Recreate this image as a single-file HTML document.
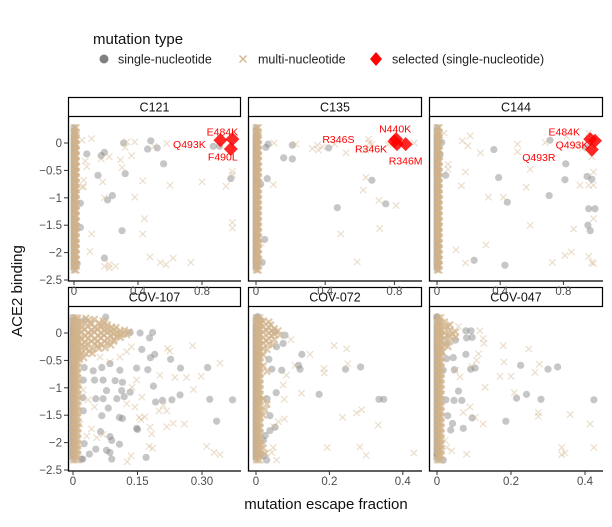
<!DOCTYPE html>
<html><head><meta charset="utf-8"><style>
body{margin:0;background:#fff;}
svg text{font-family:"Liberation Sans",sans-serif;}
</style></head><body>
<svg id="chart" width="612" height="522" viewBox="0 0 612 522" xmlns="http://www.w3.org/2000/svg">
<g>
<text x="93" y="44" font-size="15" fill="#111">mutation type</text>
<g><circle cx="104" cy="59" r="4.5" fill="#808080"/><text x="118" y="63.5" font-size="12.5" fill="#222">single-nucleotide</text></g>
<g><path d="M239.5,55.5l7,7M246.5,55.5l-7,7" stroke="#d2b48c" stroke-width="1.3"/><text x="258" y="63.5" font-size="12.5" fill="#222">multi-nucleotide</text></g>
<g><path d="M376,52l6,7l-6,7l-6,-7z" fill="#ff0000"/><text x="392" y="63.5" font-size="12.5" fill="#222">selected (single-nucleotide)</text></g>
</g>
<text transform="translate(22,291) rotate(-90)" text-anchor="middle" font-size="15" fill="#111">ACE2 binding</text>
<text x="326" y="509" text-anchor="middle" font-size="15" fill="#111">mutation escape fraction</text>
<g id="panels"></g>
<g id="toplabels"></g>
</svg>
<script>
const colY = [0.28,0.22,0.15,0.1,0.05,0,-0.05,-0.1,-0.15,-0.2,-0.25,-0.3,-0.35,-0.4,-0.45,-0.5,-0.55,-0.6,-0.65,-0.7,-0.75,-0.8,-0.85,-0.9,-0.95,-1.0,-1.05,-1.1,-1.15,-1.2,-1.25,-1.3,-1.35,-1.4,-1.45,-1.5,-1.55,-1.6,-1.65,-1.7,-1.75,-1.8,-1.85,-1.9,-1.95,-2.0,-2.05,-2.1,-2.15,-2.2,-2.25,-2.3];
const topColX = [0.0,0.008,0.016,0.004,0.012];
const botColX = [0,0.006,0.012,0.003,0.009];

const yTicks = [0,-0.5,-1,-1.5,-2,-2.5];
const yTickLabels = ["0","\u22120.5","\u22121","\u22121.5","\u22122","\u22122.5"];
const topXTicks = [0,0.4,0.8];
const topXTickLabels = ["0","0.4","0.8"];
const cov107XTicks = [0,0.15,0.3];
const cov107XTickLabels = ["0","0.15","0.30"];
const covXTicks = [0,0.2,0.4];
const covXTickLabels = ["0","0.2","0.4"];

const panelNames = ["C121","C135","C144","COV-107","COV-072","COV-047"];

const c121_sn = [[0.08,-0.2],[0.19,-0.17],[0.17,-0.23],[0.31,0],[0.48,0.04],[0.46,-0.11],[0.52,-0.09],[0.56,-0.38],[0.32,-0.56],[0.15,-0.59],[0.24,-0.96],[0.21,-1.04],[0.04,-1.1],[0.04,-1.54],[0.3,-1.6],[0.19,-2.1],[0.87,-0.06],[0.91,-0.06],[0.98,-0.65],[0.02,-2.2]];
const c121_mn = [[0.05,0.05],[0.11,0.08],[0.07,-0.33],[0.08,-0.43],[0.17,-0.29],[0.22,-0.25],[0.29,-0.31],[0.3,-0.45],[0.36,-0.23],[0.33,0.02],[0.38,0.02],[0.32,-0.08],[0.5,-0.06],[0.58,-0.01],[0.43,-0.69],[0.18,-0.71],[0.06,-0.68],[0.06,-0.8],[0.05,-0.8],[0.19,-1.0],[0.38,-0.99],[0.6,-0.77],[0.8,-0.71],[0.95,-0.79],[0.99,-0.52],[0.99,-0.58],[0.44,-1.38],[0.43,-1.66],[0.11,-1.66],[0.99,-1.45],[0.99,-1.55],[0.1,-1.98],[0.475,-2.08],[0.19,-2.25],[0.22,-2.22],[0.26,-2.25],[0.22,-2.28],[0.54,-2.18],[0.575,-2.22],[0.62,-2.1],[0.73,-2.18]];
const c121_sel = [[0.99,0.07],[0.915,0.05],[0.98,-0.11]];
const c121_selLabels = ["E484K","Q493K","F490L"];

const c135_sn = [[0.07,-0.02],[0.057,-0.08],[0.21,-0.04],[0.42,-0.09],[0.16,-0.27],[0.21,-0.29],[0.065,-0.65],[0.027,-0.75],[0.67,-0.68],[0.47,-1.18],[0.75,-1.11],[0.05,-1.76],[0.036,-2.18]];
const c135_mn = [[0.104,0],[0.23,-0.02],[0.325,-0.1],[0.36,-0.13],[0.385,-0.07],[0.355,-0.04],[0.455,-0.02],[0.52,-0.18],[0.65,0.07],[0.655,0],[0.67,-0.02],[0.635,-0.13],[0.765,-0.03],[0.845,-0.01],[0.915,0],[0.1,-0.76],[0.635,-0.63],[0.62,-0.86],[0.71,-1.05],[0.81,-1.14],[0.49,-1.66],[0.715,-1.56],[0.585,-2.17],[0.03,-1.83]];
const c135_sel = [[0.81,0.07],[0.8,0.03],[0.815,-0.02],[0.865,-0.02]];
const c135_selLabels = ["N440K","R346S","R346K","R346M"];

const c144_sn = [[0.03,0.01],[0.02,-0.21],[0.055,-0.59],[0.36,-0.12],[0.715,0.05],[0.39,-0.63],[0.445,-1.08],[0.71,-0.96],[0.815,-0.38],[0.81,-0.67],[0.95,-0.61],[0.98,-0.66],[0.96,-1.2],[1.0,-1.2],[0.955,-1.5],[0.97,-1.6],[0.94,-0.07],[0.235,-2.14],[0.43,-2.23]];
const c144_mn = [[0.045,0.18],[0.16,0.04],[0.21,0.13],[0.195,-0.05],[0.275,-0.18],[0.07,-0.39],[0.07,-0.48],[0.18,-0.53],[0.155,-0.78],[0.51,-0.02],[0.51,-0.16],[0.685,0.01],[0.59,-0.48],[0.565,-0.81],[0.325,-0.99],[0.42,-0.99],[0.82,0.12],[0.96,0.18],[0.98,-0.25],[0.99,-0.53],[0.905,-0.77],[0.96,-0.77],[0.99,-0.77],[0.99,-1.38],[0.865,-1.57],[0.59,-1.5],[0.31,-1.86],[0.12,-1.95],[0.18,-2.19],[0.73,-2.18],[0.81,-2.05],[0.85,-1.99],[0.96,-2.07],[0.98,-2.18],[0.99,-2.2],[0.88,-0.05],[0.92,-0.1]];
const c144_sel = [[0.97,0.07],[1.0,0.04],[0.98,-0.12]];
const c144_selLabels = ["E484K","Q493K","Q493R"];

const cov107_sn = [[0.076,0.29],[0.026,0.23],[0.133,0.01],[0.156,0],[0.185,0.01],[0.178,-0.09],[0.16,-0.3],[0.19,-0.39],[0.18,-0.45],[0.227,-0.48],[0.148,-0.64],[0.174,-0.67],[0.25,-0.64],[0.313,-0.63],[0.086,-0.56],[0.067,-0.63],[0.047,-0.69],[0.026,-0.63],[0.109,-0.68],[0.115,-0.9],[0.098,-0.87],[0.024,-0.86],[0.05,-0.86],[0.07,-0.86],[0.187,-0.97],[0.078,-1.05],[0.113,-1.05],[0.133,-1.08],[0.053,-1.2],[0.07,-1.2],[0.102,-1.2],[0.119,-1.16],[0.023,-1.18],[0.192,-1.26],[0.208,-1.23],[0.23,-1.22],[0.249,-1.13],[0.318,-1.21],[0.371,-1.22],[0.082,-1.37],[0.024,-1.42],[0.067,-1.51],[0.108,-1.54],[0.115,-1.56],[0.148,-1.74],[0.15,-1.76],[0.334,-1.61],[0.064,-1.8],[0.086,-1.89],[0.09,-1.96],[0.026,-2.02],[0.108,-2.03],[0.053,-2.12],[0.078,-2.14],[0.086,-2.18],[0.038,-2.21],[0.17,-2.27],[0.019,-2.3],[0.023,-2.3],[0.09,-2.3]];
const cov107_mn = [[0.278,-0.23],[0.22,-0.28],[0.225,-0.33],[0.342,-0.55],[0.298,-0.79],[0.28,-1.03],[0.264,-0.81],[0.237,-0.81],[0.202,-0.77],[0.218,-1.42],[0.2,-1.42],[0.21,-1.32],[0.233,-1.65],[0.218,-1.71],[0.259,-1.66],[0.158,-1.58],[0.167,-1.53],[0.154,-1.54],[0.179,-1.72],[0.183,-1.84],[0.311,-2.07],[0.328,-2.18],[0.342,-2.22],[0.177,-2.07],[0.185,-2.1],[0.126,-2.35],[0.135,-2.24],[0.032,-1.88],[0.043,-1.75],[0.07,-1.85],[0.055,-1.91],[0.016,-1.66],[0.016,-0.95],[0.024,-1.04],[0.02,-1.16],[0.035,-1.22],[0.05,-1.35],[0.125,-1.29],[0.144,-1.35],[0.16,-1.17],[0.137,-0.99],[0.148,-0.86],[0.063,-0.44],[0.086,-0.53],[0.109,-0.44],[0.125,-0.34],[0.136,-0.25]];
const cov107_blob = [[0.01,0.25],[0.03,0.27],[0.05,0.25],[0.07,0.22],[0.02,0.18],[0.04,0.2],[0.06,0.18],[0.08,0.15],[0.1,0.1],[0.12,0.05],[0.13,0.02],[0.005,0.1],[0.02,0.1],[0.035,0.12],[0.05,0.1],[0.065,0.1],[0.08,0.08],[0.095,0.06],[0.11,0.04],[0.005,0.0],[0.02,0.02],[0.035,0.0],[0.05,0.02],[0.065,0.0],[0.08,0.01],[0.095,-0.01],[0.11,-0.02],[0.125,-0.03],[0.005,-0.1],[0.02,-0.12],[0.035,-0.1],[0.05,-0.11],[0.065,-0.09],[0.08,-0.1],[0.095,-0.12],[0.11,-0.08],[0.005,-0.2],[0.02,-0.22],[0.035,-0.19],[0.05,-0.2],[0.065,-0.21],[0.08,-0.18],[0.095,-0.15],[0.005,-0.3],[0.015,-0.32],[0.03,-0.29],[0.045,-0.3],[0.06,-0.28],[0.075,-0.27],[0.005,-0.4],[0.015,-0.42],[0.03,-0.38],[0.045,-0.37],[0.005,-0.5],[0.015,-0.48],[0.025,-0.45],[0.012,0.05],[0.028,-0.05],[0.043,0.05],[0.058,-0.05],[0.073,0.05],[0.088,-0.05],[0.103,0.0],[0.012,-0.15],[0.028,-0.25],[0.043,-0.15],[0.058,-0.15],[0.073,-0.15],[0.088,-0.22],[0.012,0.2],[0.043,0.16],[0.073,0.18],[0.027,0.07],[0.057,0.07],[0.087,0.03],[0.117,-0.01],[0.027,-0.17],[0.057,-0.24],[0.042,-0.03],[0.072,-0.04],[0.102,-0.06],[0.02,-0.36],[0.038,-0.33],[0.012,-0.26],[0.065,0.14],[0.09,0.11],[0.035,0.23],[0.018,-0.07]];

const cov072_sn = [[0.005,0.3],[0.014,0.23],[0.052,0.02],[0.079,-0.04],[0.074,-0.19],[0.056,-0.25],[0.035,-0.48],[0.043,-0.66],[0.07,-0.68],[0.125,-0.39],[0.116,-0.59],[0.12,-0.66],[0.244,-0.66],[0.285,-0.62],[0.172,-1.12],[0.335,-1.21],[0.348,-1.21],[0.055,-1.09],[0.03,-1.2],[0.011,-1.2],[0.038,-1.51],[0.052,-1.72],[0.038,-1.78],[0.025,-1.87],[0.02,-1.96],[0.006,-2.21],[0.029,-2.32],[0.02,-2.24]];
const cov072_mn = [[0.095,-0.12],[0.147,-0.39],[0.213,-0.23],[0.247,-0.29],[0.25,-0.56],[0.185,-0.65],[0.186,-0.73],[0.106,-0.59],[0.083,-0.77],[0.074,-0.95],[0.124,-1.1],[0.077,-1.21],[0.236,-1.54],[0.274,-1.46],[0.288,-1.4],[0.333,-1.68],[0.077,-1.57],[0.061,-1.62],[0.048,-1.71],[0.194,-2.09],[0.283,-2.08],[0.3,-2.23],[0.43,-2.19],[0.047,-2.09],[0.056,-2.32],[0.043,-2.18]];
const cov072_blob = [[0.005,0.25],[0.02,0.22],[0.035,0.2],[0.005,0.15],[0.02,0.12],[0.035,0.1],[0.05,0.08],[0.06,0.04],[0.005,0.05],[0.02,0.02],[0.035,0.0],[0.05,-0.02],[0.065,-0.04],[0.005,-0.05],[0.02,-0.08],[0.035,-0.1],[0.05,-0.12],[0.005,-0.15],[0.02,-0.18],[0.035,-0.2],[0.045,-0.22],[0.005,-0.25],[0.02,-0.28],[0.03,-0.3],[0.01,-0.35],[0.02,-0.4],[0.02,-0.6],[0.03,-0.7],[0.02,-1.2],[0.03,-1.3],[0.025,-1.4],[0.02,-1.5],[0.015,-2.0],[0.02,-2.1],[0.025,-2.2],[0.04,0.15],[0.028,0.05],[0.042,-0.05],[0.028,-0.14],[0.042,0.04],[0.012,0.19]];

const cov047_sn = [[0.0,0.3],[0.078,0.04],[0.092,0.04],[0.095,-0.08],[0.08,-0.09],[0.05,-0.13],[0.026,-0.19],[0.078,-0.39],[0.044,-0.45],[0.026,-0.47],[0.103,-0.64],[0.091,-0.66],[0.047,-0.67],[0.017,-0.68],[0.226,-0.59],[0.3,-0.66],[0.326,-0.62],[0.058,-1.06],[0.046,-1.23],[0.067,-1.23],[0.024,-1.22],[0.215,-1.19],[0.242,-1.12],[0.281,-1.21],[0.424,-1.22],[0.029,-1.51],[0.095,-1.55],[0.042,-1.65],[0.071,-1.74],[0.037,-1.77],[0.186,-1.61],[0.0,-2.21],[0.017,-2.32]];
const cov047_mn = [[0.058,0.12],[0.116,0.04],[0.125,-0.1],[0.127,-0.19],[0.112,-0.38],[0.107,-0.5],[0.094,-0.61],[0.062,-0.8],[0.05,-0.68],[0.179,-0.23],[0.248,-0.29],[0.181,-0.53],[0.17,-0.79],[0.2,-0.79],[0.265,-0.72],[0.277,-0.57],[0.13,-0.99],[0.209,-1.09],[0.36,-1.49],[0.274,-1.45],[0.274,-1.52],[0.414,-1.66],[0.424,-2.09],[0.337,-2.09],[0.346,-2.19],[0.337,-2.22],[0.08,-2.21],[0.125,-1.66],[0.103,-1.54],[0.071,-1.45],[0.089,-1.35],[0.04,-2.15],[0.022,-1.96],[0.026,-2.09]];
const cov047_blob = [[0.005,0.22],[0.02,0.2],[0.035,0.15],[0.005,0.12],[0.02,0.1],[0.035,0.05],[0.05,0.02],[0.005,0.02],[0.02,0.0],[0.035,-0.05],[0.05,-0.08],[0.005,-0.08],[0.02,-0.1],[0.035,-0.15],[0.005,-0.2],[0.02,-0.22],[0.03,-0.25],[0.01,-0.3],[0.015,-0.35],[0.028,0.12],[0.042,-0.01],[0.028,-0.05]];

const NS = "http://www.w3.org/2000/svg";
const layouts = [
 {left:68,right:241,top:117,bottom:281,y0:143,x0:74,xs:160,row:0},
 {left:248,right:422,top:117,bottom:281,y0:143,x0:256,xs:173,row:0},
 {left:429,right:603,top:117,bottom:281,y0:143,x0:437,xs:158,row:0},
 {left:68,right:241,top:307,bottom:471,y0:333,x0:73,xs:430,row:1},
 {left:248,right:422,top:307,bottom:471,y0:333,x0:256,xs:367,row:1},
 {left:429,right:603,top:307,bottom:471,y0:333,x0:437,xs:370,row:1}
];
const YS = 54.8;
const panelSn = [c121_sn,c135_sn,c144_sn,cov107_sn,cov072_sn,cov047_sn];
const panelMn = [c121_mn,c135_mn,c144_mn,cov107_mn,cov072_mn,cov047_mn];
const panelBlob = [[],[],[],cov107_blob,cov072_blob,cov047_blob];
const panelSel = [c121_sel,c135_sel,c144_sel,null,null,null];
const panelSelLabels = [c121_selLabels,c135_selLabels,c144_selLabels,null,null,null];
const panelTicks = [topXTicks,topXTicks,topXTicks,cov107XTicks,covXTicks,covXTicks];
const panelTickLabels = [topXTickLabels,topXTickLabels,topXTickLabels,cov107XTickLabels,covXTickLabels,covXTickLabels];
const labelOffsets = [
 [[-10,-7],[-31,4],[-8,8]],
 [[-1,-10],[-56,-2],[-26,5],[0,17]],
 [[-26,-7],[-23,4],[-53,8]]
];

function el(tag, attrs, parent){const e=document.createElementNS(NS,tag);for(const k in attrs)e.setAttribute(k,attrs[k]);parent.appendChild(e);return e;}
const root = document.getElementById('panels');
const topLabels = document.getElementById('toplabels');

layouts.forEach((L,p)=>{
  const xS = v => L.x0 + v*L.xs;
  const yS = v => L.y0 - v*YS;
  const g = el('g',{},root);
  
  
  const sy = L.top - 20;
  const strip = el('rect',{x:L.left+0.5,y:sy+0.5,width:L.right-L.left-1,height:19,fill:'#fff',stroke:'#000','stroke-width':1.2},g);
  
  
  const st = el('text',{x:(L.left+L.right)/2,y:sy+14.5,'text-anchor':'middle','font-size':12.5,fill:'#111'},g);
  st.textContent = panelNames[p];
  
  
  const pts = el('g',{},g);
  
  
  const colXs = L.row===0 ? topColX : botColX;
  colY.forEach((y,i)=>{
    const c = el('circle',{cx:xS(0.0), cy:yS(y), r:3.6, fill:'#808080','fill-opacity':0.4},pts);
    
    
  });
  panelSn[p].forEach(d=>{
    const c = el('circle',{cx:xS(d[0]), cy:yS(d[1]), r:3.6, fill:'#808080','fill-opacity':0.45},pts);
    
    
  });
  const drawX = (x,y,op,sw)=>{
    const cx=xS(x), cy=yS(y), h=3.2;
    const m = el('path',{d:`M${cx-h},${cy-h}L${cx+h},${cy+h}M${cx+h},${cy-h}L${cx-h},${cy+h}`,stroke:'#d2b48c','stroke-width':sw,'stroke-opacity':op,fill:'none'},pts);
    
    
  };
  colY.forEach((y,i)=>{ colXs.forEach(cx=>drawX(cx, y - (i%2)*0.02, 0.5, 1.3)); });
  panelBlob[p].forEach(d=>drawX(d[0],d[1],0.7,2.2));
  panelMn[p].forEach(d=>drawX(d[0],d[1],0.45,1.2));
  if(panelSel[p]){
    panelSel[p].forEach((d,i)=>{
      const cx=xS(d[0]), cy=yS(d[1]), h=7;
      const s = el('path',{d:`M${cx},${cy-h}L${cx+h},${cy}L${cx},${cy+h}L${cx-h},${cy}Z`,fill:'#ff0000','fill-opacity':0.85},g);
      
      
      const off = labelOffsets[p][i];
      const t = el('text',{x:cx+off[0],y:cy+off[1]+3.5,'text-anchor':'middle','font-size':10.5,fill:'#ff0000'},g);
      t.textContent = panelSelLabels[p][i];
      
      
    });
  }
  const ax = el('path',{d:`M${L.left+0.5},${L.top}V${L.bottom}H${L.right}`,stroke:'#000','stroke-width':1.3,fill:'none'},g);
  
  
  panelTicks[p].forEach((v,i)=>{
    const x = xS(v);
    const tk = el('line',{x1:x,x2:x,y1:L.bottom,y2:L.bottom+4,stroke:'#333','stroke-width':1},g);
    
    
    const t = el('text',{x:x,y:L.bottom+14,'text-anchor':'middle','font-size':11.5,fill:'#4d4d4d'}, L.row===0?topLabels:g);
    t.textContent = panelTickLabels[p][i];
    
    
  });
  if(p%3===0){
    yTicks.forEach((v,i)=>{
      const y = yS(v);
      const tk = el('line',{x1:L.left-4,x2:L.left,y1:y,y2:y,stroke:'#333','stroke-width':1},g);
      
      
      const t = el('text',{x:L.left-6,y:y+4,'text-anchor':'end','font-size':11.5,fill:'#4d4d4d'},g);
      t.textContent = yTickLabels[i];
      
      
    });
  }
});
</script>
</body></html>
